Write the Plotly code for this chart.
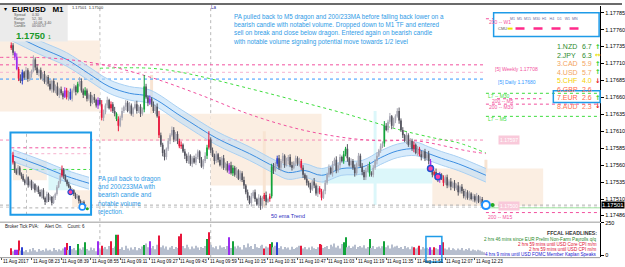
import plotly.graph_objects as go

W, H = 625, 267
FONT = "Liberation Sans"

# ---------------- data ----------------
time_labels = ["11 Aug 2017", "11 Aug 08:23", "11 Aug 08:39", "11 Aug 08:55", "11 Aug 09:11",
               "11 Aug 09:27", "11 Aug 09:43", "11 Aug 09:59", "11 Aug 10:15", "11 Aug 10:31",
               "11 Aug 10:47", "11 Aug 11:03", "11 Aug 11:19", "11 Aug 11:35", "11 Aug 11:51",
               "11 Aug 12:07", "11 Aug 12:23"]
time_label_minutes = [0, 16, 32, 48, 64, 80, 96, 112, 128, 144, 160, 176, 192, 208, 224, 240, 256]
first_candle_minute = 5          # minutes after 08:07
first_open = 733                 # points above 1.17000
closes = [737, 726, 720, 702, 688, 684, 697, 689, 700, 687,
          694, 699, 716, 704, 696, 700, 688, 694, 683, 690,
          680, 672, 684, 670, 676, 664, 672, 666, 661, 670,
          660, 668, 658, 670, 676, 668, 680, 684, 670, 664,
          670, 658, 664, 652, 660, 656, 648, 656, 650, 630,
          638, 648, 656, 644, 650, 640, 636, 628, 618, 630,
          640, 646, 652, 640, 648, 636, 644, 650, 640, 646,
          636, 642, 676, 660, 652, 658, 650, 640, 646, 632,
          604, 590, 578, 572, 584, 596, 604, 612, 598, 606,
          596, 588, 590, 580, 574, 566, 574, 562, 570, 564,
          572, 580, 568, 558, 566, 574, 586, 598, 582, 574,
          566, 576, 568, 560, 570, 556, 562, 552, 560, 548,
          556, 546, 552, 540, 548, 538, 530, 520, 512, 504,
          514, 520, 510, 502, 512, 500, 510, 516, 506, 510,
          514, 558, 552, 562, 570, 556, 566, 574, 560, 566,
          572, 560, 556, 564, 570, 562, 566, 556, 546, 540,
          534, 530, 524, 536, 530, 518, 526, 520, 512, 522,
          534, 546, 556, 548, 562, 568, 552, 560, 572, 566,
          576, 584, 570, 560, 566, 556, 548, 562, 574, 558,
          550, 542, 552, 560, 548, 546, 556, 566, 574, 582,
          588, 592, 618, 612, 624, 632, 618, 626, 632, 640,
          626, 612, 604, 596, 604, 590, 596, 584, 590, 578,
          584, 576, 572, 580, 570, 576, 566, 556, 546, 550,
          544, 538, 546, 540, 534, 542, 530, 536, 528, 534,
          526, 530, 520, 528, 522, 514, 520, 512, 518, 510,
          514, 508, 514, 506, 510, 504, 501]
wick_up = [4, 3, 2, 5, 3, 6, 4, 2, 5, 3, 4, 2, 6, 3, 5, 2, 4, 3, 5, 2,
           3, 5, 2, 4, 3, 6, 2, 4, 3, 5, 4, 2, 5, 3, 4, 2, 3, 6, 4, 3,
           5, 3, 2, 4, 3, 5, 2, 4, 3, 6, 4, 3, 5, 2, 4, 3, 6, 2, 4, 3,
           5, 2, 4, 3, 5, 3, 2, 4, 5, 3, 4, 3, 17, 4, 3, 5, 2, 4, 3, 5,
           8, 4, 3, 5, 2, 4, 3, 5, 4, 3, 4, 3, 5, 2, 4, 3, 5, 2, 3, 4,
           5, 3, 2, 4, 3, 5, 4, 12, 3, 4, 3, 5, 2, 4, 3, 5, 2, 4, 3, 5,
           4, 3, 5, 2, 4, 3, 5, 2, 4, 3, 5, 3, 4, 2, 5, 3, 4, 3, 5, 2,
           4, 4, 5, 3, 4, 5, 3, 4, 2, 5, 3, 4, 5, 2, 4, 3, 5, 3, 4, 2,
           5, 3, 4, 2, 5, 3, 4, 3, 5, 2, 4, 3, 5, 2, 4, 3, 5, 3, 4, 2,
           5, 3, 7, 2, 4, 3, 5, 2, 4, 3, 5, 3, 4, 2, 5, 3, 4, 3, 5, 2,
           4, 3, 7, 4, 3, 5, 2, 4, 3, 4, 5, 3, 4, 2, 5, 3, 4, 3, 5, 2,
           4, 3, 5, 2, 4, 3, 5, 3, 4, 2, 5, 3, 4, 2, 5, 3, 4, 3, 5, 2,
           4, 3, 5, 2, 4, 3, 5, 3, 4, 2, 4, 3, 5, 2, 4, 3, 2]
wick_dn = [3, 4, 5, 2, 4, 3, 5, 3, 2, 4, 3, 5, 2, 4, 3, 5, 2, 4, 3, 5,
           4, 2, 5, 3, 4, 2, 5, 3, 4, 2, 3, 5, 2, 4, 3, 5, 2, 4, 3, 5,
           2, 4, 3, 5, 2, 4, 3, 5, 2, 4, 5, 3, 4, 2, 5, 3, 4, 3, 8, 2,
           4, 3, 5, 2, 4, 3, 5, 2, 4, 3, 5, 3, 4, 2, 5, 3, 4, 3, 5, 2,
           4, 3, 5, 5, 4, 3, 5, 2, 4, 3, 5, 3, 4, 2, 5, 3, 4, 3, 5, 2,
           4, 3, 5, 2, 4, 3, 5, 3, 4, 2, 5, 3, 4, 2, 5, 3, 4, 3, 5, 2,
           4, 3, 5, 2, 4, 3, 5, 3, 4, 2, 5, 3, 4, 2, 5, 6, 4, 3, 5, 2,
           4, 3, 5, 2, 4, 3, 5, 3, 4, 2, 5, 3, 4, 2, 5, 3, 4, 3, 5, 2,
           4, 3, 5, 2, 4, 3, 5, 3, 4, 2, 5, 3, 4, 2, 5, 3, 4, 3, 5, 2,
           4, 3, 5, 2, 4, 3, 5, 3, 4, 2, 5, 4, 4, 2, 5, 3, 4, 3, 5, 2,
           4, 3, 5, 2, 4, 3, 5, 3, 4, 2, 5, 3, 4, 2, 5, 3, 4, 3, 5, 2,
           4, 3, 5, 2, 4, 3, 5, 3, 4, 2, 5, 3, 4, 2, 5, 3, 4, 3, 5, 2,
           4, 3, 5, 2, 4, 3, 5, 3, 4, 2, 4, 3, 5, 2, 4, 3, 2]
volumes = [52, 30, 41, 41, 112, 35, 60, 28, 40, 22, 45, 30, 55, 38, 25, 48, 33, 40, 28, 50,
           36, 42, 30, 55, 40, 28, 46, 35, 50, 60, 94, 40, 70, 45, 55, 38, 86, 50, 42, 60,
           99, 48, 35, 58, 40, 52, 30, 107, 44, 73, 50, 62, 45, 70, 107, 55, 66, 156, 156, 48,
           60, 40, 72, 50, 35, 58, 44, 62, 38, 55, 48, 66, 78, 90, 60, 107, 52, 70, 45, 80,
           151, 60, 75, 50, 66, 42, 58, 70, 48, 62, 55, 146, 164, 70, 52, 80, 60, 45, 66, 50,
           72, 58, 40, 62, 55, 70, 125, 177, 80, 60, 52, 68, 45, 75, 58, 62, 48, 70, 138, 55,
           107, 66, 50, 72, 60, 44, 78, 58, 90, 62, 70, 48, 85, 60, 55, 72, 80, 50, 66, 58,
           86, 99, 60, 72, 99, 55, 68, 45, 62, 50, 58, 42, 65, 48, 55, 60, 73, 73, 50, 62,
           45, 58, 40, 66, 52, 48, 60, 86, 80, 55, 62, 70, 48, 80, 66, 90, 58, 72, 50, 85,
           99, 138, 60, 72, 55, 66, 80, 48, 62, 70, 58, 76, 50, 62, 125, 55, 70, 48, 60, 66,
           52, 68, 107, 60, 75, 50, 82, 58, 66, 72, 55, 62, 48, 70, 52, 60, 45, 66, 60, 50,
           58, 73, 44, 62, 50, 56, 48, 60, 42, 60, 52, 46, 78, 55, 99, 50, 44, 58, 40, 52,
           46, 38, 50, 42, 55, 36, 48, 40, 52, 34, 44, 38, 30, 42, 35, 28, 22]
pva_red = [0, 4, 30, 49, 54, 58, 80, 91, 92, 107, 137, 140, 157, 167, 168, 218, 221, 229, 234]
pva_green = [36, 40, 57, 72, 106, 120, 141, 180, 181, 194, 202]
pva_purple = [2, 3, 29, 47, 75, 118, 227, 232]
pva_blue = [6, 32, 144]

price_ticks = [1.17785, 1.17760, 1.17735, 1.17710, 1.17685, 1.17660, 1.17635,
               1.17610, 1.17585, 1.17560, 1.17535, 1.17510, 1.17486]
last_price = 1.17501

dragon_idx = [-3, 15, 30, 42, 53, 64, 75, 92, 111, 129, 143, 150, 159, 168, 179, 190, 200, 209, 219, 226, 233, 242, 257]
dragon_mid = [758, 734, 716, 695, 676, 666, 661, 632, 600, 577, 557, 549, 552, 545, 555, 557, 571, 581, 584, 577, 570, 562, 545]
dragon_half = 10
ma_green_idx = [48, 75, 92, 129, 156, 182, 209, 229, 242, 257]
ma_green = [703, 703, 697, 673, 654, 635, 613, 600, 593, 578]
ma_pink_idx = [-6, 21, 48, 75, 102, 129, 156, 182, 200, 219, 247, 257]
ma_pink = [719, 718, 709, 690, 664, 635, 613, 600, 596, 596, 581, 577]
signal_idx = [227, 231]
signal_pts = [555, 543]
last_signal_idx = 257
last_signal_pts = 501

# key levels (points above 1.17000)
weekly_level = 708
weekly_pivot = 697
daily_level = 687
half_level = 597
bid_levels = [501, 498]
w1_200 = 776
m30_l7 = 666
m5_200 = 658
m30_200 = 650
m5_l7 = 632
m15_200 = 490
cur_level = 497

# hourly range boxes: (start_min, end_min, top_pts, bottom_pts)
session_boxes = [(-2, 53, 744, 639), (53, 113, 636, 596), (113, 173, 636, 530), (233, 293, 555, 500)]
cyan_box = (173, 233, 555, 533)
highlight_cols = [(81, 693, 636, "beige"), (142, 610, 498, "beige"), (202, 640, 501, "cyan"), (262, 568, 549, "beige")]

strength_names = ["1.NZD", "2.JPY", "3.CAD", "4.USD", "5.CHF", "6.GBP", "7.EUR", "8.AUD"]
strength_vals = ["6.7", "6.3", "5.9", "5.7", "4.0", "2.6", "2.6", "2.3"]
strength_arrows = ["up", "flat", "up", "up", "down", "", "up", "down"]

# inset (M5 snapshot)
inset_first_open = 756
inset_closes = [740, 724, 718, 730, 716, 712, 704, 698, 710, 694,
                702, 688, 696, 684, 690, 680, 672, 684, 668, 660,
                676, 664, 670, 658, 668, 676, 690, 700, 714, 726,
                712, 704, 696, 690, 680, 684, 676, 668, 672, 662,
                656, 660, 652, 654]
inset_wick_up = [6, 3, 4, 5, 3, 4, 5, 3, 6, 2, 4, 3, 5, 2, 4, 3, 5, 2, 4, 3,
                 5, 3, 4, 2, 5, 3, 4, 3, 5, 8, 3, 4, 2, 5, 3, 4, 2, 3, 4, 2, 3, 2, 3, 2]
inset_wick_dn = [4, 5, 3, 4, 2, 5, 3, 4, 2, 5, 3, 4, 2, 5, 3, 4, 2, 5, 3, 6,
                 2, 4, 3, 5, 2, 4, 3, 2, 3, 4, 5, 3, 4, 2, 5, 3, 4, 2, 3, 5, 4, 3, 4, 2]
inset_red = [0, 29]
inset_dragon_idx = [0, 16, 32, 45]
inset_dragon_mid = [754, 734, 712, 698]
inset_dragon_half = 12
inset_signal_idx = [34]
inset_signal_pts = [680]

# ---------------- helpers ----------------
BASE = 1.17


def P(v):
    return BASE + v / 1e5


def px(x):
    return x / W


def py(y):
    return 1 - y / H


PLOT_R = 603
PX_PER_MIN = 1.856
X0 = -2 / PX_PER_MIN
X1 = (PLOT_R - 2) / PX_PER_MIN
Y_TOP = P(510 + (199 - 3) * 1.4535)
Y_BOT = P(510 - (222 - 199) * 1.4535)

RED = "#e8173c"
GREEN = "#12a33a"
PURPLE = "#9b2cf0"
BLUE = "#2a3fd0"
BULL = "#a8a8b4"
BEAR = "#55555f"
TXT_BLUE = "#2f9be6"

fig = go.Figure()

N = len(closes)
opens = [first_open] + closes[:-1]
highs = [max(o, c) + u for o, c, u in zip(opens, closes, wick_up)]
lows = [min(o, c) - d for o, c, d in zip(opens, closes, wick_dn)]
mins = [first_candle_minute + i for i in range(N)]


def color_of(i, bull):
    if i in pva_red:
        return RED
    if i in pva_green:
        return GREEN
    if i in pva_purple:
        return PURPLE
    if i in pva_blue:
        return BLUE
    return BULL if bull else BEAR


# dragon band
dm = [first_candle_minute + i for i in dragon_idx]
fig.add_trace(go.Scatter(x=dm, y=[P(v + dragon_half) for v in dragon_mid], mode="lines",
                         line=dict(color="#a9d0f2", width=1, shape="spline"), hoverinfo="skip"))
fig.add_trace(go.Scatter(x=dm, y=[P(v - dragon_half) for v in dragon_mid], mode="lines",
                         line=dict(color="#a9d0f2", width=1, shape="spline"), fill="tonexty",
                         fillcolor="rgba(190,222,248,0.6)", hoverinfo="skip"))
fig.add_trace(go.Scatter(x=dm, y=[P(v) for v in dragon_mid], mode="lines",
                         line=dict(color="#3d8ee0", width=1, shape="spline"), hoverinfo="skip"))
# moving averages
fig.add_trace(go.Scatter(x=[first_candle_minute + i for i in ma_green_idx], y=[P(v) for v in ma_green],
                         mode="lines", line=dict(color="#3ddc3d", width=1, dash="dot", shape="spline")))
fig.add_trace(go.Scatter(x=[first_candle_minute + i for i in ma_pink_idx], y=[P(v) for v in ma_pink],
                         mode="lines", line=dict(color="#f0509e", width=1, dash="dot", shape="spline")))

# candles
groups = {}
for i in range(N):
    col = color_of(i, closes[i] >= opens[i])
    g = groups.setdefault(col, {"wx": [], "wy": [], "bx": [], "by": []})
    g["wx"] += [mins[i], mins[i], None]
    g["wy"] += [P(lows[i]), P(highs[i]), None]
    g["bx"] += [mins[i], mins[i], None]
    g["by"] += [P(opens[i]), P(closes[i]), None]
for col, g in groups.items():
    fig.add_trace(go.Scatter(x=g["wx"], y=g["wy"], mode="lines", line=dict(color=col, width=1)))
    fig.add_trace(go.Scatter(x=g["bx"], y=g["by"], mode="lines", line=dict(color=col, width=1.7)))

# signals
fig.add_trace(go.Scatter(x=[first_candle_minute + i for i in signal_idx], y=[P(v) for v in signal_pts],
                         mode="markers", marker=dict(size=6, color="#ff3fa0", line=dict(color="#2050d0", width=1.5))))
fig.add_trace(go.Scatter(x=[first_candle_minute + last_signal_idx], y=[P(last_signal_pts)], mode="markers",
                         marker=dict(size=8, color="white", line=dict(color="#1e90ff", width=2))))
fig.add_trace(go.Scatter(x=[first_candle_minute + last_signal_idx + 3.6], y=[P(last_signal_pts)], mode="markers",
                         marker=dict(size=4, color="#22aa22")))

# volume
vcols = []
for i in range(N):
    c = color_of(i, True)
    vcols.append("#b6bece" if c == BULL else c)
fig.add_trace(go.Bar(x=mins, y=volumes, marker=dict(color=vcols, line=dict(width=0)), width=0.6,
                     xaxis="x2", yaxis="y2"))

# inset
NI = len(inset_closes)
iopens = [inset_first_open] + inset_closes[:-1]
ihigh = [max(o, c) + u for o, c, u in zip(iopens, inset_closes, inset_wick_up)]
ilow = [min(o, c) - d for o, c, d in zip(iopens, inset_closes, inset_wick_dn)]
fig.add_trace(go.Scatter(x=inset_dragon_idx, y=[v + inset_dragon_half for v in inset_dragon_mid], mode="lines",
                         line=dict(color="#a9d0f2", width=1, shape="spline"), xaxis="x3", yaxis="y3"))
fig.add_trace(go.Scatter(x=inset_dragon_idx, y=[v - inset_dragon_half for v in inset_dragon_mid], mode="lines",
                         line=dict(color="#a9d0f2", width=1, shape="spline"), fill="tonexty",
                         fillcolor="rgba(190,222,248,0.6)", xaxis="x3", yaxis="y3"))
fig.add_trace(go.Scatter(x=inset_dragon_idx, y=inset_dragon_mid, mode="lines",
                         line=dict(color="#3d8ee0", width=1, shape="spline"), xaxis="x3", yaxis="y3"))
ig = {}
for j in range(NI):
    col = RED if j in inset_red else (BULL if inset_closes[j] >= iopens[j] else BEAR)
    g = ig.setdefault(col, {"x": [], "y": [], "bx": [], "by": []})
    g["x"] += [j, j, None]
    g["y"] += [ilow[j], ihigh[j], None]
    g["by"] += [iopens[j], inset_closes[j], None]
for col, g in ig.items():
    fig.add_trace(go.Scatter(x=g["x"], y=g["y"], mode="lines", line=dict(color=col, width=1), xaxis="x3", yaxis="y3"))
    fig.add_trace(go.Scatter(x=g["x"], y=g["by"], mode="lines", line=dict(color=col, width=1.6), xaxis="x3", yaxis="y3"))
fig.add_trace(go.Scatter(x=inset_signal_idx, y=inset_signal_pts, mode="markers", xaxis="x3", yaxis="y3",
                         marker=dict(size=5, color="#ff3fa0", line=dict(color="#2050d0", width=1.2))))
fig.add_trace(go.Scatter(x=[41], y=[650], mode="markers", xaxis="x3", yaxis="y3",
                         marker=dict(size=6, color="white", line=dict(color="#1e90ff", width=1.6))))
fig.add_trace(go.Scatter(x=[44], y=[646], mode="markers", xaxis="x3", yaxis="y3",
                         marker=dict(size=3, color="#22aa22")))

shapes = []
# hourly boxes
for (a, b, t, btm) in session_boxes:
    shapes.append(dict(type="rect", xref="x", yref="y", x0=a, x1=b, y0=P(btm), y1=P(t),
                       fillcolor="#fbeee2", line=dict(width=0), layer="below"))
a, b, t, btm = cyan_box
shapes.append(dict(type="rect", xref="x", yref="y", x0=a, x1=b, y0=P(btm), y1=P(t),
                   fillcolor="#dcf7fa", line=dict(width=0), layer="below"))
for (m, t, btm, kind) in highlight_cols:
    shapes.append(dict(type="rect", xref="x", yref="y", x0=m - 0.8, x1=m + 0.8, y0=P(btm), y1=P(t),
                       fillcolor="#dcf7fa" if kind == "cyan" else "#f8e4d2", line=dict(width=0), layer="below"))
# period separators
for m in [53, 113]:
    shapes.append(dict(type="line", xref="x", yref="paper", x0=m, x1=m, y0=py(258), y1=py(3),
                       line=dict(color="#b8b8b8", width=1, dash="dot"), layer="below"))


def hline(v, m0, m1, color, dash="dot", width=1):
    shapes.append(dict(type="line", xref="x", yref="y", x0=m0, x1=m1, y0=P(v), y1=P(v),
                       line=dict(color=color, width=width, dash=dash), layer="below"))


END = X1
hline(weekly_level, X0, 262, "#f2509e")
hline(weekly_pivot, X0, 262, "#f7b3cf")
hline(daily_level, X0, 262, "#3399ff")
hline(half_level, X0, 262, "#f58ab8")
hline(bid_levels[0], X0, END, "#b0b0b0")
hline(bid_levels[1], X0, END, "#c8c8c8")
hline(cur_level, 262, END, "#9fe39f", dash="solid")
hline(w1_200, 262, END, "#f2509e")
hline(m30_l7, 262, END, "#3ddc3d")
hline(m5_200, 268, 292, "#f2509e")
hline(m30_200, 262, END, "#f2509e")
hline(m5_l7, 262, END, "#3ddc3d")
hline(m15_200, 262, END, "#f2509e")

# inset background & content
shapes.append(dict(type="rect", xref="x3", yref="y3", x0=-1.2, x1=45.9, y0=634, y1=800,
                   fillcolor="white", line=dict(width=0), layer="below"))
shapes.append(dict(type="rect", xref="x3", yref="y3", x0=0, x1=20, y0=704, y1=744,
                   fillcolor="#fbeee2", line=dict(width=0), layer="below"))
shapes.append(dict(type="rect", xref="x3", yref="y3", x0=21, x1=34, y0=684, y1=728,
                   fillcolor="#dcf7fa", line=dict(width=0), layer="below"))
shapes.append(dict(type="rect", xref="x3", yref="y3", x0=35, x1=45.9, y0=650, y1=684,
                   fillcolor="#fbeee2", line=dict(width=0), layer="below"))
for v, c in [(770, "#f2509e"), (758, "#f7b3cf"), (726, "#3ddc3d"), (648, "#b0b0b0")]:
    shapes.append(dict(type="line", xref="x3", yref="y3", x0=-1, x1=45.9, y0=v, y1=v,
                       line=dict(color=c, width=1, dash="dot"), layer="below"))
shapes.append(dict(type="line", xref="x3", yref="y3", x0=8, x1=8, y0=634, y1=800,
                   line=dict(color="#c0c0c0", width=1, dash="dot"), layer="below"))
shapes.append(dict(type="rect", xref="paper", yref="paper", x0=px(10.5), x1=px(91.5), y0=py(215), y1=py(131.5),
                   line=dict(color="#1e9be8", width=2), fillcolor="rgba(0,0,0,0)", layer="above"))

# frame lines
shapes.append(dict(type="rect", xref="paper", yref="paper", x0=0, x1=1, y0=py(2), y1=1,
                   fillcolor="#6b6b6b", line=dict(width=0)))
shapes.append(dict(type="line", xref="paper", yref="paper", x0=0, x1=px(PLOT_R), y0=py(222.5), y1=py(222.5),
                   line=dict(color="#9a9a9a", width=1)))
shapes.append(dict(type="line", xref="paper", yref="paper", x0=0, x1=px(PLOT_R), y0=py(258.5), y1=py(258.5),
                   line=dict(color="#9a9a9a", width=1)))
# info panel bg
shapes.append(dict(type="rect", xref="paper", yref="paper", x0=0, x1=px(68), y0=py(39), y1=py(2),
                   fillcolor="#ebebeb", line=dict(width=0), layer="above"))
# top right box
shapes.append(dict(type="rect", xref="paper", yref="paper", x0=px(496), x1=px(602), y0=py(34), y1=py(10),
                   fillcolor="white", line=dict(color="#1e9be8", width=1.5)))
shapes.append(dict(type="line", xref="paper", yref="paper", x0=px(510), x1=px(515), y0=py(26), y1=py(26),
                   line=dict(color="#f0e000", width=2)))
shapes.append(dict(type="line", xref="paper", yref="paper", x0=px(518), x1=px(590), y0=py(26), y1=py(26),
                   line=dict(color="#ff2a8a", width=2.5, dash="dash")))
# EUR strength box
shapes.append(dict(type="rect", xref="paper", yref="paper", x0=px(556), x1=px(603), y0=py(101), y1=py(89),
                   line=dict(color="#1e9be8", width=1.5)))
# volume highlight box
shapes.append(dict(type="rect", xref="paper", yref="paper", x0=px(428), x1=px(444), y0=py(263), y1=py(237),
                   line=dict(color="#1e9be8", width=1.5)))

ann = []


def text(x, y, s, size=5.5, color="black", anchor="left", bold=False, yanchor="middle", family=FONT, **kw):
    if bold:
        s = "<b>" + s + "</b>"
    ann.append(dict(x=px(x), y=py(y), xref="paper", yref="paper", text=s, showarrow=False,
                    xanchor=anchor, yanchor=yanchor, font=dict(size=size, color=color, family=family), **kw))


# info panel
text(2, 6, "▾", 6)
text(10, 6.5, "EURUSD   M1", 8, bold=True)
for k, (lab, val) in enumerate([("Spread", "0.30"), ("Range", "52, 30"), ("Swaps", "-10.08, 3.40"), ("Candle", "00:00:57")]):
    text(12, 12 + k * 3.9, lab, 3.6, "#555")
    text(30, 12 + k * 3.9, val, 3.6, "#555")
text(14, 33.5, "1.1750", 9.5, "#1a9a2a", bold=True)
text(46, 34.5, "1", 5, "#1a9a2a")
text(70, 4.5, "1.17501  1.17500", 4, "#333")
text(210, 4.5, "La", 4.5, "#3030a0")

# main comments
text(232, 8, "PA pulled back to M5 dragon and 200/233MA before falling back lower on a<br>"
     "bearish candle with notabel volume. Dropped down to M1 TF and entered<br>"
     "sell on break and close below dragon. Entered again on bearish candle<br>"
     "with notable volume signaling potential move towards 1/2 level",
     6.3, TXT_BLUE, yanchor="top", align="left")
text(96, 173, "PA pull back to dragon<br>and 200/233MA with<br>bearish candle and<br>notable volume<br>rejection.",
     6.3, TXT_BLUE, yanchor="top", align="left")
text(270, 216, "50 ema Trend", 5.5, "#3030c0")

# level labels
text(489, 19, "200 -- W1", 5, "#f2509e")
text(495, 67, "[5] Weekly 1.17708", 5, "#f2509e")
text(498, 80, "[5] Daily 1.17680", 5, "#3399ff")
text(488, 94, "L7 -- M30", 5, "#3ddc3d")
text(492, 99.5, "200 -- M5", 5, "#f2509e")
text(489, 106, "200 -- M30", 5, "#f2509e")
text(488, 118, "L7 -- M5", 5, "#3ddc3d")
text(488, 217, "200 -- M15", 5, "#f2509e")
text(500, 139, "1.17597", 5, "#ffffff", bgcolor="#f9c9da")
text(500, 206, "1.17500", 5, "#ffffff", bgcolor="#f9c9da")
text(498, 26, "CMU", 4, "#555")
text(510, 16, "M1  M5  M15  M30  H1   H4   D1   W1  MN", 3.6, "#6a6a9a")

# strength table
scol = ["#2e8b2e", "#2e8b2e", "#f4a460", "#f4a460", "#f5d000", "#ff6a4a", "#ff6a4a", "#ff7a5a"]
arrows = {"up": ("↑", "#22cc22"), "flat": ("↔", "#e8e000"), "down": ("↓", "#e81010"), "": ("", "white")}
for k, (nm, vl, ar) in enumerate(zip(strength_names, strength_vals, strength_arrows)):
    yy = 44.5 + k * 8.6
    text(558, yy, nm, 7, scol[k])
    text(583, yy, vl, 7, scol[k])
    sym, c = arrows[ar]
    if sym:
        text(595.5, yy, "<b>" + sym + "</b>", 6.5, c, family="DejaVu Sans")

# current price label
ann.append(dict(x=px(604), y=P(closes[-1]), xref="paper", yref="y", text="1.17501", showarrow=False,
                xanchor="left", yanchor="middle", font=dict(size=6, color="white", family=FONT),
                bgcolor="black", borderpad=0))

# volume pane texts
text(3, 226.5, "Broker Tick PVA:     Alert On.    Count: 6", 4.5, "#222")
text(602, 233, "FFCAL HEADLINES:", 5.2, "#333", anchor="right", bold=True)
for k, (s, c) in enumerate([("2 hrs 46 mins since EUR Prelim Non-Farm Payrolls q/q", "#2a8a2a"),
                            ("2 hrs 59 mins until USD Core CPI m/m", "#e01030"),
                            ("2 hrs 59 mins until USD CPI m/m", "#e01030"),
                            ("4 hrs 9 mins until USD FOMC Member Kaplan Speaks", "#2020d0")]):
    text(602, 240 + k * 5, s, 4.6, c, anchor="right")

# time labels
for m, lab in zip(time_label_minutes, time_labels):
    ann.append(dict(x=m, y=py(262.5), xref="x2", yref="paper", text=lab, showarrow=False, xanchor="left",
                    yanchor="middle", xshift=-1, font=dict(size=4.6, color="black", family=FONT)))

fig.update_layout(
    width=W, height=H, margin=dict(l=0, r=0, t=0, b=0), paper_bgcolor="white", plot_bgcolor="white",
    showlegend=False, shapes=shapes, annotations=ann,
    xaxis=dict(domain=[0, px(PLOT_R)], range=[X0, X1], visible=False),
    yaxis=dict(domain=[py(222), py(3)], range=[Y_BOT, Y_TOP], side="right", tickvals=price_ticks,
               ticktext=["%.5f" % v for v in price_ticks], ticks="outside", ticklen=3, tickcolor="black",
               tickfont=dict(size=5.5, family=FONT, color="black"), showgrid=False, zeroline=False,
               showline=True, linecolor="black", linewidth=1),
    xaxis2=dict(domain=[0, px(PLOT_R)], range=[X0, X1], anchor="y2", tickvals=time_label_minutes,
                ticks="outside", ticklen=2, tickcolor="#555", showticklabels=False, showgrid=False,
                zeroline=False, showline=False),
    yaxis2=dict(domain=[py(258), py(223)], range=[-15.6, 250], side="right", anchor="x2", tickvals=[0, 250],
                ticktext=["0", "250"], ticks="outside", ticklen=3, tickcolor="black",
                tickfont=dict(size=5.5, family=FONT, color="black"), showgrid=False, zeroline=False,
                showline=True, linecolor="black", linewidth=1),
    xaxis3=dict(domain=[px(11), px(91)], range=[-1.2, 45.9], anchor="y3", visible=False),
    yaxis3=dict(domain=[py(215), py(132)], range=[634, 800], anchor="x3", visible=False),
)
for tr in fig.data:
    tr.hoverinfo = "skip"

fig.write_html("out.html")
